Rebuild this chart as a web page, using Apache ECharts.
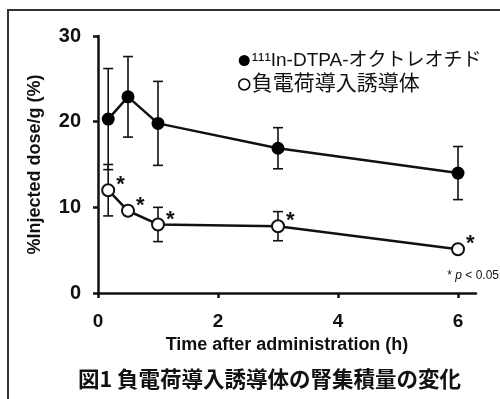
<!DOCTYPE html>
<html><head><meta charset="utf-8">
<script src="https://cdn.jsdelivr.net/npm/echarts@6/dist/echarts.min.js"></script>
<style>html,body{margin:0;padding:0;background:#fff}#c{width:500px;height:399px}</style>
</head><body><div id="c"></div>
<script>
const times = [0.17, 0.5, 1, 3, 6];
const octreotide = [20.3, 22.9, 19.8, 16.9, 14.0];
const octreotideSD = [5.9, 4.7, 4.9, 2.4, 3.1];
const derivative = [12.0, 9.6, 8.0, 7.8, 5.1];
const derivativeSD = [3.0, 0.5, 2.0, 1.7, 0.4];
const xTicks = [0, 2, 4, 6];
const seriesNames = ['\u00b9\u00b9\u00b9In-DTPA-オクトレオチド', '負電荷導入誘導体'];
const xTitle = 'Time after administration (h)';
const yTitle = '%Injected dose/g (%)';
const caption = '図1 負電荷導入誘導体の腎集積量の変化';

const FONT = '"Liberation Sans", Arial, "Noto Sans CJK JP", sans-serif';
const pts = (ys) => times.map((t, i) => [t, ys[i]]);
const errs = (ys, sd) => times.map((t, i) => [t, ys[i] - sd[i], ys[i] + sd[i]]);

function errBar(params, api) {
  const x = api.value(0);
  const lo = api.coord([x, api.value(1)]);
  const hi = api.coord([x, api.value(2)]);
  const w = 5;
  const st = { stroke: '#111', lineWidth: 1.6 };
  return { type: 'group', children: [
    { type: 'line', shape: { x1: lo[0], y1: lo[1], x2: hi[0], y2: hi[1] }, style: st },
    { type: 'line', shape: { x1: lo[0] - w, y1: lo[1], x2: lo[0] + w, y2: lo[1] }, style: st },
    { type: 'line', shape: { x1: hi[0] - w, y1: hi[1], x2: hi[0] + w, y2: hi[1] }, style: st }
  ]};
}

const chart = echarts.init(document.getElementById('c'), null, { renderer: 'canvas' });
chart.setOption({
  animation: false,
  backgroundColor: '#fff',
  textStyle: { fontFamily: FONT },
  grid: { left: 98, right: 24, top: 36, bottom: 106, containLabel: false },
  xAxis: {
    type: 'value', min: 0, max: 6.3, interval: 2,
    name: xTitle, nameLocation: 'middle', nameGap: 40,
    nameTextStyle: { fontFamily: FONT, fontWeight: 'bold', fontSize: 18, color: '#111' },
    axisLine: { lineStyle: { color: '#111', width: 2.5 } },
    axisTick: { customValues: xTicks, length: 5, lineStyle: { color: '#111', width: 2.5 } },
    axisLabel: { customValues: xTicks, margin: 19, fontFamily: FONT, fontWeight: 'bold', fontSize: 19, color: '#111' },
    splitLine: { show: false }
  },
  yAxis: {
    type: 'value', min: 0, max: 30, interval: 10,
    name: yTitle, nameLocation: 'middle', nameGap: 54, nameRotate: 90,
    nameTextStyle: { fontFamily: FONT, fontWeight: 'bold', fontSize: 18, color: '#111', padding: [0, 0, 0, 0] },
    axisLine: { show: true, lineStyle: { color: '#111', width: 2.5 } },
    axisTick: { show: true, length: 5, lineStyle: { color: '#111', width: 2.5 } },
    axisLabel: { margin: 17, fontFamily: FONT, fontWeight: 'bold', fontSize: 20, color: '#111' },
    splitLine: { show: false }
  },
  legend: {
    orient: 'vertical', left: 233, top: 46, itemGap: 4,
    icon: 'circle', itemWidth: 11, itemHeight: 11,
    data: [
      { name: seriesNames[0], itemStyle: { color: '#000', borderWidth: 0 } },
      { name: seriesNames[1], itemStyle: { color: '#fff', borderColor: '#000', borderWidth: 1.5 } }
    ],
    formatter: (n) => n === seriesNames[0]
      ? '{s|\u00b9\u00b9\u00b9}{a|' + n.slice(3) + '}'
      : '{b|' + n + '}',
    textStyle: { fontFamily: FONT, color: '#111', padding: [0, 0, 0, -3],
      rich: {
        s: { fontFamily: FONT, fontSize: 19, color: '#111' },
        a: { fontFamily: FONT, fontSize: 19, color: '#111' },
        b: { fontFamily: FONT, fontSize: 21, color: '#111' }
      } }
  },
  graphic: [
    { type: 'polyline', shape: { points: [[8, 399], [8, 10], [500, 10]] }, style: { stroke: '#333', lineWidth: 2, fill: null } },
    { type: 'text', left: 78, top: 368, style: { text: caption, font: 'bold 21.5px "Noto Sans CJK JP", sans-serif', fill: '#111' } },
    { type: 'text', right: 1, top: 270, style: { text: '{t|* }{i|p}{t| < 0.05}',
      rich: { t: { fontFamily: FONT, fontSize: 12, fill: '#111' }, i: { fontFamily: FONT, fontSize: 12, fontStyle: 'italic', fill: '#111' } } } }
  ],
  series: [
    { name: 'err1', type: 'custom', renderItem: errBar, data: errs(octreotide, octreotideSD), z: 1, encode: { x: 0, y: [1, 2] } },
    { name: 'err2', type: 'custom', renderItem: errBar, data: errs(derivative, derivativeSD), z: 1, encode: { x: 0, y: [1, 2] } },
    { name: seriesNames[0], type: 'line', data: pts(octreotide), z: 3,
      symbol: 'circle', symbolSize: 13, lineStyle: { color: '#111', width: 2.5 }, itemStyle: { color: '#000' } },
    { name: seriesNames[1], type: 'line', data: pts(derivative), z: 3,
      symbol: 'circle', symbolSize: 12, lineStyle: { color: '#111', width: 2.5 },
      itemStyle: { color: '#fff', borderColor: '#111', borderWidth: 2 },
      label: { show: true, formatter: '*', position: 'right', distance: 1, offset: [0, -5], fontFamily: FONT, fontWeight: 'bold', fontSize: 22, color: '#111' } }
  ]
});
</script></body></html>
